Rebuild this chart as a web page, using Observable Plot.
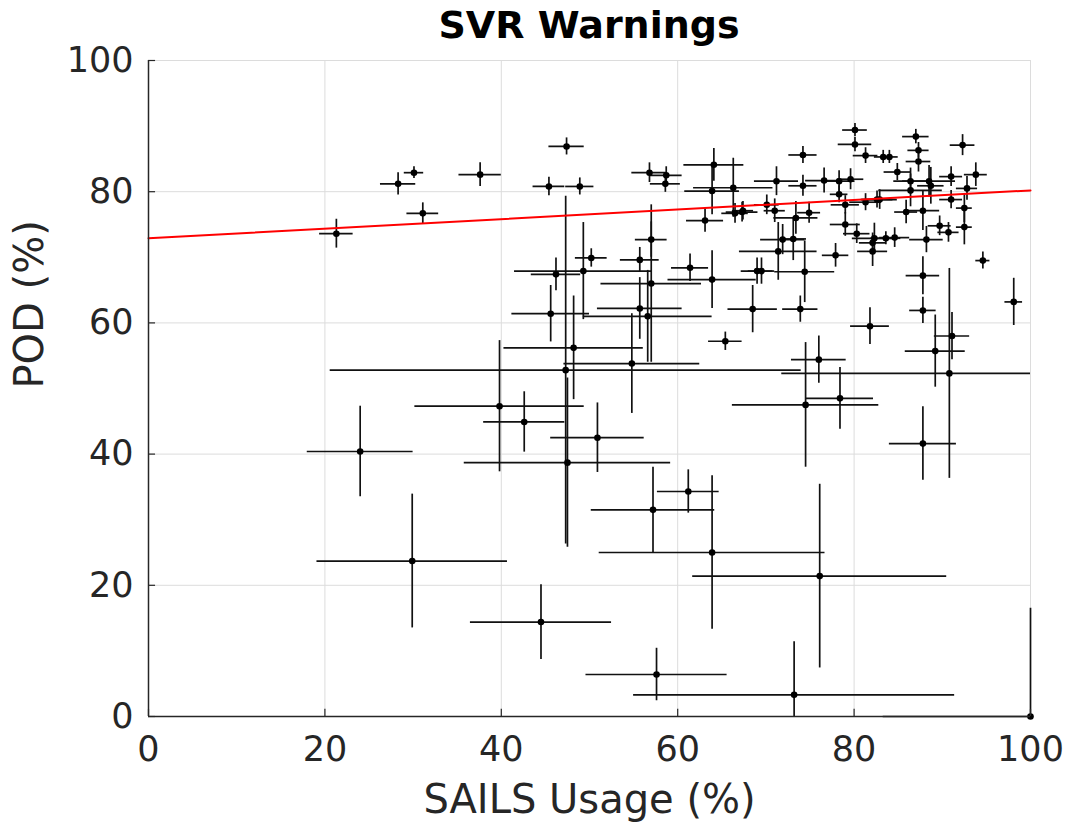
<!DOCTYPE html>
<html>
<head>
<meta charset="utf-8">
<script src="https://cdn.jsdelivr.net/npm/d3@7"></script>
<script src="https://cdn.jsdelivr.net/npm/@observablehq/plot@0.6"></script>
<style>
  html, body { margin: 0; padding: 0; background: #fff; }
  #wrap { position: relative; width: 1065px; height: 825px; font-family: "DejaVu Sans", sans-serif; }
  #title { position: absolute; top: 6px; left: 148px; width: 882px; text-align: center; z-index: 2;
           font-size: 38px; line-height: 1; font-weight: bold; color: #000; }
  #chart { position: absolute; top: 45px; left: 0; z-index: 1; }
</style>
</head>
<body>
<div id="wrap">
  <div id="title">SVR Warnings</div>
  <div id="chart"></div>
</div>
<script>
// SAILS usage (%) per point
const sails = [
  21.3, 28.3, 30.1, 31.1, 37.6, 47.4, 45.4, 48.9, 56.8, 58.7,
  58.6, 64.1, 63.9, 66.3, 63.1, 66.5, 67.3, 57.0, 50.2, 49.3,
  55.7, 55.7, 56.6, 61.4, 63.9, 57.0, 46.2, 45.6, 48.2, 47.3,
  47.5, 65.4, 54.8, 39.8, 42.6, 50.9, 61.2, 29.9, 44.5, 57.2,
  57.6, 24.0, 63.9, 76.1, 73.2, 100.0, 68.5, 73.9, 81.8, 87.8,
  98.1, 91.1, 90.8, 89.2, 76.0, 74.5, 78.4, 87.8, 80.1, 80.1,
  74.2, 81.3, 83.3, 84.0, 87.0, 87.3, 87.3, 92.3, 84.9, 91.0,
  93.8, 88.5, 86.4, 86.4, 88.7, 92.8, 91.0, 82.9, 92.5, 85.9,
  87.8, 89.7, 90.7, 92.5, 84.6, 88.2, 94.6, 87.8, 71.2, 74.2,
  76.6, 78.3, 79.6, 78.3, 67.4, 70.1, 71.0, 74.9, 73.4, 79.0,
  81.3, 82.6, 79.0, 80.3, 71.9, 73.1, 82.3, 83.6, 82.1, 71.4,
  77.9, 82.1, 69.0, 69.5, 74.4
];
// POD (%) per point
const pod = [
  73.6, 81.2, 82.9, 76.7, 82.6, 86.9, 80.8, 80.8, 82.9, 82.5,
  81.2, 84.1, 80.1, 80.6, 75.6, 76.7, 76.9, 72.7, 69.9, 67.9,
  69.6, 62.2, 61.0, 68.4, 66.6, 66.0, 67.4, 61.4, 56.2, 52.8,
  38.7, 57.2, 53.8, 47.3, 44.9, 42.5, 34.3, 23.7, 14.4, 31.5,
  6.4, 40.4, 25.0, 21.4, 3.3, 0.0, 62.1, 62.1, 59.5, 61.9,
  63.2, 58.0, 52.3, 55.7, 54.4, 47.5, 48.5, 41.6, 89.4, 87.2,
  85.6, 85.5, 85.3, 85.3, 88.4, 86.3, 84.6, 87.1, 83.0, 82.3,
  82.6, 81.6, 81.6, 80.2, 80.9, 80.5, 78.8, 78.8, 77.5, 76.9,
  77.1, 74.8, 73.8, 74.6, 73.0, 72.7, 69.5, 67.2, 81.6, 80.9,
  81.7, 81.6, 81.9, 79.6, 77.1, 78.0, 77.1, 76.8, 76.0, 78.0,
  78.4, 78.8, 75.0, 73.6, 72.7, 72.8, 72.9, 72.9, 72.2, 70.9,
  70.3, 70.9, 67.9, 67.9, 67.8
];
// half-width of the SAILS usage uncertainty
const sailsErr = [
  1.9, 2.0, 1.1, 1.8, 2.4, 2.0, 1.8, 1.6, 2.0, 1.8,
  1.7, 3.4, 3.1, 4.5, 2.1, 1.5, 1.8, 1.8, 1.8, 7.8,
  2.2, 4.8, 7.3, 2.1, 5.0, 5.7, 2.8, 4.4, 7.9, 26.7,
  11.7, 1.9, 7.7, 9.6, 4.6, 5.3, 3.5, 10.8, 8.0, 7.0,
  8.0, 6.0, 12.8, 14.4, 18.2, 16.7, 2.8, 2.0, 2.2, 1.5,
  1.0, 2.0, 19.0, 3.4, 3.1, 8.3, 3.8, 3.8, 1.4, 1.9,
  1.6, 1.4, 1.0, 1.0, 1.5, 1.2, 1.4, 1.4, 1.5, 1.3,
  1.3, 3.0, 1.9, 3.6, 1.5, 1.2, 1.3, 2.0, 0.9, 1.3,
  1.9, 1.3, 1.2, 0.9, 1.7, 1.9, 0.8, 1.9, 2.5, 1.6,
  2.1, 1.8, 1.5, 1.0, 1.2, 1.4, 1.2, 1.3, 2.5, 1.6,
  1.8, 1.8, 1.7, 1.5, 2.5, 1.5, 2.5, 1.7, 1.5, 4.4,
  1.5, 1.7, 1.8, 1.5, 3.4
];
// half-height of the POD uncertainty
const podErr = [
  2.2, 1.7, 0.9, 1.6, 1.8, 1.3, 1.4, 1.3, 1.5, 1.3,
  1.3, 2.5, 3.6, 4.5, 1.8, 1.5, 1.5, 2.7, 1.4, 7.4,
  1.9, 4.7, 7.0, 2.1, 4.4, 12.0, 2.5, 4.3, 7.9, 26.5,
  12.9, 1.4, 7.6, 10.0, 4.6, 5.3, 3.3, 10.2, 5.7, 6.5,
  4.0, 6.9, 11.7, 14.0, 8.1, 16.5, 3.6, 2.0, 2.8, 2.0,
  3.6, 3.6, 16.0, 5.5, 3.6, 9.5, 4.7, 5.6, 1.0, 1.1,
  1.3, 1.2, 1.0, 1.0, 1.1, 1.2, 1.6, 1.6, 1.3, 1.5,
  1.8, 2.4, 2.0, 2.5, 2.8, 1.8, 1.4, 1.5, 2.2, 1.8,
  3.0, 1.5, 1.5, 2.7, 1.5, 2.0, 1.3, 2.9, 2.2, 1.6,
  1.9, 1.6, 1.6, 1.3, 1.4, 1.5, 1.8, 1.6, 2.5, 1.4,
  1.3, 1.3, 1.8, 1.5, 2.3, 3.3, 2.3, 1.0, 1.5, 4.4,
  1.8, 2.3, 2.0, 2.0, 4.7
];
// linear fit endpoints
const fitSails = [0, 100];
const fitPod = [72.9, 80.2];
// tick labels
const xTicks = [0, 20, 40, 60, 80, 100];
const yTicks = [0, 20, 40, 60, 80, 100];

const points = sails.map((x, i) => ({x, y: pod[i], xe: sailsErr[i], ye: podErr[i]}));
const fit = fitSails.map((x, i) => ({x, y: fitPod[i]}));
const lo = 0, hi = 100;
const clamp = v => Math.max(lo, Math.min(hi, v));

const axisColor = "#262626";
const chart = Plot.plot({
  width: 1065,
  height: 780,
  marginLeft: 148,
  marginRight: 35,
  marginTop: 15,
  marginBottom: 109,
  style: {fontFamily: "DejaVu Sans, sans-serif", color: axisColor, background: "transparent", overflow: "visible"},
  x: {domain: [0, 100]},
  y: {domain: [0, 100]},
  marks: [
    Plot.gridX(xTicks, {stroke: "#dcdcdc", strokeOpacity: 1, strokeWidth: 1}),
    Plot.gridY(yTicks, {stroke: "#dcdcdc", strokeOpacity: 1, strokeWidth: 1}),
    Plot.ruleY(points, {y: "y", x1: d => clamp(d.x - d.xe), x2: d => clamp(d.x + d.xe), stroke: "#111", strokeWidth: 1.7}),
    Plot.ruleX(points, {x: "x", y1: d => clamp(d.y - d.ye), y2: d => clamp(d.y + d.ye), stroke: "#111", strokeWidth: 1.7}),
    Plot.dot(points, {x: "x", y: "y", r: 3.3, fill: "#000", stroke: "none"}),
    Plot.line(fit, {x: "x", y: "y", stroke: "#ff0000", strokeWidth: 2}),
    Plot.ruleX([0], {stroke: axisColor, strokeWidth: 1.5}),
    Plot.ruleY([0], {stroke: axisColor, strokeWidth: 1.5}),
    Plot.ruleX(xTicks, {y1: 0, y2: 1.1, stroke: axisColor, strokeWidth: 1.2}),
    Plot.ruleY(yTicks, {x1: 0, x2: 0.8, stroke: axisColor, strokeWidth: 1.2}),
    Plot.axisX({ticks: xTicks, tickSize: 0, tickPadding: 20, fontSize: 35, label: null, tickFormat: d => String(d)}),
    Plot.axisY({ticks: yTicks, tickSize: 0, tickPadding: 15, fontSize: 35, label: null, tickFormat: d => String(d)}),
    Plot.text(["SAILS Usage (%)"], {frameAnchor: "bottom", dy: 96, fontSize: 40, fill: axisColor}),
    Plot.text(["POD (%)"], {frameAnchor: "left", dx: -118, rotate: -90, fontSize: 40, fill: axisColor})
  ]
});
document.getElementById("chart").appendChild(chart);
</script>
</body>
</html>
